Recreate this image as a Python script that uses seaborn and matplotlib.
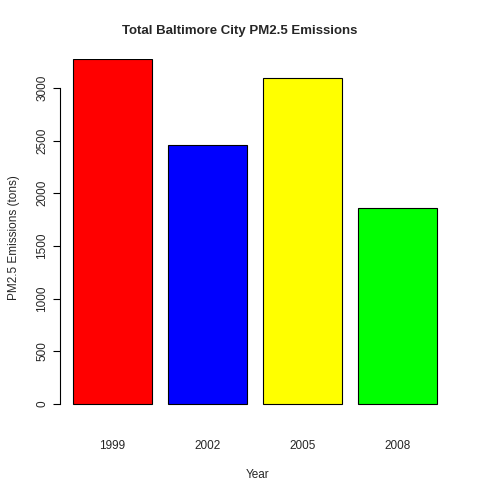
import matplotlib
matplotlib.use("Agg")
import matplotlib.pyplot as plt
import seaborn as sns
import pandas as pd

years = ["1999", "2002", "2005", "2008"]
emissions = [3274, 2454, 3091, 1862]
colors = ["#ff0000", "#0000ff", "#ffff00", "#00ff00"]

sns.set_style("white")
plt.rcParams['font.family'] = ['Liberation Sans', 'DejaVu Sans']

df = pd.DataFrame({"Year": years, "Emissions": emissions})

fig = plt.figure(figsize=(4.8, 4.8), dpi=100)
# plot region in pixels: x 60..455, y (from top) 59..416
ax = fig.add_axes([60/480, (480-416)/480, (455-60)/480, (416-59)/480])
sns.barplot(data=df, x="Year", y="Emissions", hue="Year", palette=colors,
            legend=False, width=79/95, edgecolor="black", linewidth=0.8,
            saturation=1, ax=ax)
ax.set_xlim(-0.55, 3.6)
ax.set_ylim(-114, 3275)
for s in ["top", "right", "bottom"]:
    ax.spines[s].set_visible(False)
ax.spines["left"].set_bounds(0, 3000)
ax.spines["left"].set_color("black")
ax.spines["left"].set_linewidth(0.8)
ax.set_yticks([0, 500, 1000, 1500, 2000, 2500, 3000])
ax.tick_params(axis="y", left=True, length=5, width=0.8, labelsize=8.5,
               labelrotation=90, color="black")
ax.tick_params(axis="x", bottom=False, labelsize=8.5, pad=14)
for lab in ax.get_yticklabels():
    lab.set_va("center")
ax.set_xlabel("Year", fontsize=8.5, labelpad=12)
ax.set_ylabel("PM2.5 Emissions (tons)", fontsize=8.5, labelpad=12)
fig.text(0.5, 1 - 31/480, "Total Baltimore City PM2.5 Emissions",
         ha="center", va="center", fontsize=9.5, fontweight="bold")
fig.savefig("out.png", dpi=100)
